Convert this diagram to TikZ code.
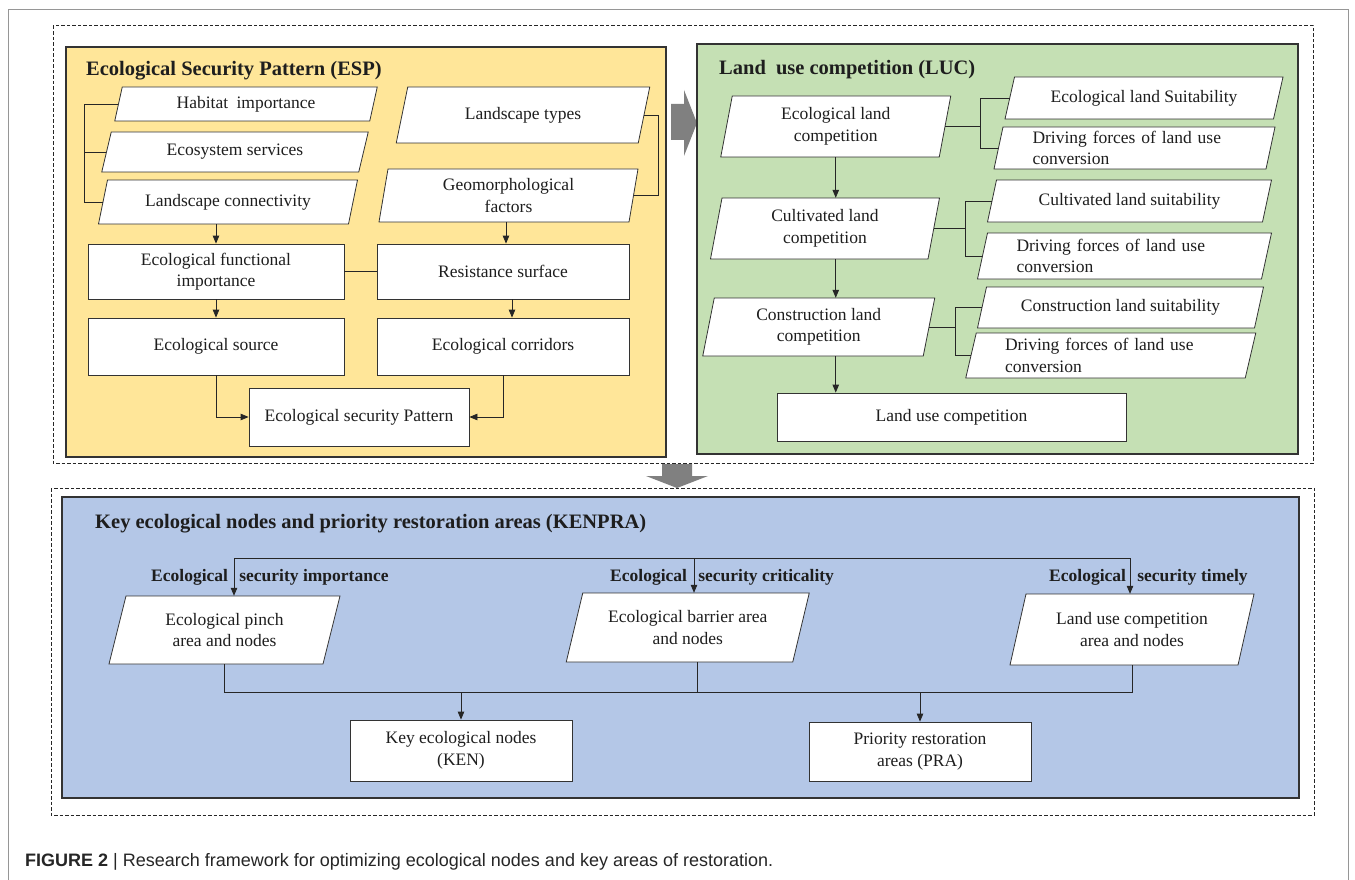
\documentclass[tikz,border=0pt]{standalone}
\usepackage{fontspec}
\setmainfont{Liberation Serif}
\newfontfamily\capfont{Liberation Sans}
\usetikzlibrary{arrows.meta,calc}

\definecolor{espfill}{RGB}{255,230,153}
\definecolor{lucfill}{RGB}{197,224,180}
\definecolor{kenfill}{RGB}{180,199,231}
\definecolor{arrowgray}{RGB}{128,128,128}
\definecolor{framegray}{RGB}{150,150,150}
\definecolor{inkcol}{RGB}{30,30,30}

% parallelogram: name, cx, cy, w, h, slant, text
\newcommand{\pgram}[7]{%
  \draw[boxline] ({#2-#4/2-#6/2},{#3+#5/2}) -- ({#2+#4/2-#6/2},{#3+#5/2}) -- ({#2+#4/2+#6/2},{#3-#5/2}) -- ({#2-#4/2+#6/2},{#3-#5/2}) -- cycle;
  \node[txt, minimum width=#4pt, minimum height=#5pt] (#1) at (#2,#3) {#7};
}
% parallelogram with left-aligned text: name, cx, cy, w, h, slant, textwidth, text
\newcommand{\pgramL}[8]{%
  \draw[boxline] ({#2-#4/2-#6/2},{#3+#5/2}) -- ({#2+#4/2-#6/2},{#3+#5/2}) -- ({#2+#4/2+#6/2},{#3-#5/2}) -- ({#2-#4/2+#6/2},{#3-#5/2}) -- cycle;
  \node[txt, align=left, text width=#7pt, minimum width=#4pt, minimum height=#5pt, inner xsep=34pt] (#1) at (#2,#3) {#8};
}

\begin{document}
\begin{tikzpicture}[x=1pt,y=-1pt,
  boxline/.style={draw=black!80, fill=white, line width=0.8pt},
  panel/.style={draw=black!80, line width=1.6pt},
  dframe/.style={draw=black!85, line width=1pt, dash pattern=on 3.5pt off 2pt},
  rbox/.style={draw=black!80, fill=white, line width=0.8pt, inner sep=0pt, align=center,
     font=\fontsize{17.5}{21.5}\selectfont, text=inkcol},
  txt/.style={inner sep=0pt, align=center, font=\fontsize{17.5}{21.5}\selectfont, text=inkcol},
  conn/.style={draw=black!85, line width=0.8pt},
  arr/.style={conn, -{Triangle[length=8pt,width=6.5pt]}},
  ttl/.style={inner sep=0pt, anchor=west, font=\fontsize{20.5}{24}\selectfont\bfseries, text=inkcol},
  sub/.style={inner sep=0pt, anchor=west, font=\fontsize{17.5}{21}\selectfont\bfseries, text=inkcol}
]
\useasboundingbox (0,0) rectangle (1355,880);
\fill[white] (0,0) rectangle (1355,880);

% outer frame
\draw[framegray, line width=1.3pt] (8.5,880) -- (8.5,9.5) -- (1348.5,9.5) -- (1348.5,880);

% gray block arrows
\fill[arrowgray] (671,104) -- (684,104) -- (684,90) -- (697,123) -- (684,156) -- (684,140) -- (671,140) -- cycle;
\fill[arrowgray] (662,464) -- (692,464) -- (692,476) -- (708,476) -- (677,488) -- (646,476) -- (662,476) -- cycle;

% dashed frames
\draw[dframe] (53,26) rectangle (1313,463);
\draw[dframe] (51,488) rectangle (1314,815);

% panels
\draw[panel, fill=espfill] (66,47) rectangle (666,457);
\draw[panel, fill=lucfill] (697,44) rectangle (1298,454);
\draw[panel, fill=kenfill] (62,497) rectangle (1299,798);

% titles
\node[ttl] (espt) at (86,71) {Ecological Security Pattern (ESP)};
\node[ttl] (luct) at (719,70) {Land\hspace{5pt} use competition (LUC)};
\node[ttl] (kent) at (95,524) {Key ecological nodes and priority restoration areas (KENPRA)};

% ===== ESP =====
\pgram{hab}{246}{104}{255}{34}{7.5}{Habitat\hspace{4pt} importance}
\pgram{eco}{235}{152}{257}{40}{9.5}{Ecosystem services}
\pgram{lcon}{228}{202}{250}{44}{9}{Landscape connectivity}
\pgram{ltyp}{523}{115}{242}{56}{11.5}{Landscape types}
\pgram{geo}{508.5}{195.5}{250}{53}{9}{Geomorphological\\factors}

\node[rbox, minimum width=256pt, minimum height=55pt] (efi) at (216,271.5) {Ecological functional\\importance};
\node[rbox, minimum width=252pt, minimum height=55pt] (res) at (503,271.5) {Resistance surface};
\node[rbox, minimum width=256pt, minimum height=57pt] (src) at (216,346.5) {Ecological source};
\node[rbox, minimum width=252pt, minimum height=57pt] (cor) at (503,346.5) {Ecological corridors};
\node[rbox, minimum width=220pt, minimum height=58pt] (espb) at (359,417) {Ecological security Pattern};

\draw[conn] (hab.west) -- ++(-33.5,0) coordinate (lbk) |- (lcon.west);
\draw[conn] (eco.west) -- (eco.west -| lbk);
\draw[conn] (ltyp.east) -- ++(14.5,0) coordinate (rbk) |- (geo.east);

\draw[arr] (efi.north |- lcon.south) -- (efi.north);
\draw[arr] ([xshift=-2.5pt]geo.south) -- ([xshift=-2.5pt]geo.south |- res.north);
\draw[conn] (efi.east) -- (res.west);
\draw[arr] (efi.south) -- (src.north);
\draw[arr] ([xshift=9pt]res.south) -- ([xshift=9pt]cor.north);
\draw[arr] (src.south) |- (espb.west);
\draw[arr] (cor.south) |- (espb.east);

% ===== LUC =====
\pgram{elc}{835.75}{126.5}{218.5}{61}{11.5}{Ecological land\\competition}
\pgram{els}{1144}{98}{268.5}{42}{9.5}{Ecological land Suitability}
\pgramL{df1}{1134.5}{148}{272}{42}{9}{204}{Driving forces of land use\\conversion}
\pgram{clc}{825}{228.5}{217.5}{61}{11.5}{Cultivated land\\competition}
\pgram{cls}{1129.5}{201}{275}{42}{9}{Cultivated land suitability}
\pgramL{df2}{1124.5}{256}{284}{46}{10}{216}{Driving forces of land use\\conversion}
\pgram{conlc}{818.75}{327}{220.5}{58}{11.5}{Construction land\\competition}
\pgram{cos}{1120.5}{307.5}{277}{41}{9}{Construction land suitability}
\pgramL{df3}{1110.75}{355.5}{279.5}{45}{10.5}{211.5}{Driving forces of land use\\conversion}
\node[rbox, minimum width=349pt, minimum height=48pt] (lucb) at (951.5,417) {Land use competition};

\draw[conn] (elc.east) -- ++(35,0) coordinate (b1);
\draw[conn] (els.west) -| (b1) |- (df1.west);
\draw[conn] (clc.east) -- ++(31,0) coordinate (b2);
\draw[conn] (cls.west) -| (b2) |- (df2.west);
\draw[conn] (conlc.east) -- ++(26,0) coordinate (b3);
\draw[conn] (cos.west) -| (b3) |- (df3.west);

\draw[arr] (elc.south) -- (elc.south |- clc.north);
\draw[arr] (elc.south |- clc.south) -- (elc.south |- conlc.north);
\draw[arr] (elc.south |- conlc.south) -- (elc.south |- lucb.north);

% ===== KENPRA =====
\pgram{pinch}{224.5}{630}{214}{68}{17}{Ecological pinch\\area and nodes}
\pgram{barr}{687.75}{627.5}{226.5}{69}{16.5}{Ecological barrier area\\and nodes}
\pgram{lucan}{1132}{629.5}{228}{71}{16}{Land use competition\\area and nodes}
\node[rbox, minimum width=222pt, minimum height=61pt] (ken) at (461,750.5) {Key ecological nodes\\(KEN)};
\node[rbox, minimum width=222pt, minimum height=59pt] (pra) at (920,751.5) {Priority restoration\\areas (PRA)};

\node[sub] (s1) at (151,577) {Ecological\hspace{7pt} security importance};
\node[sub] (s2) at (610,577) {Ecological\hspace{7pt} security criticality};
\node[sub] (s3) at (1049,577) {Ecological\hspace{7pt} security timely};

\coordinate (t1) at (234,558);
\coordinate (t2) at (694,558);
\coordinate (t3) at (1130,558);
\draw[conn] (t1) -- (t3);
\draw[arr] (t1) -- (t1 |- pinch.north);
\draw[arr] (t2) -- (t2 |- barr.north);
\draw[arr] (t3) -- (t3 |- lucan.north);

\coordinate (lo) at (224.5,692);
\draw[conn] (pinch.south) -- (lo) -- (lo -| lucan.south) -- (lucan.south);
\draw[conn] ([xshift=10pt]barr.south) -- ([xshift=10pt]barr.south |- lo);
\draw[arr] (lo -| ken.north) -- (ken.north);
\draw[arr] (lo -| pra.north) -- (pra.north);

% caption
\node[anchor=west, inner sep=0pt, font=\capfont\fontsize{18}{22}\selectfont, text=black!85] (cap) at (25,862)
  {\textbf{FIGURE 2} | Research framework for optimizing ecological nodes and key areas of restoration.};
\end{tikzpicture}
\end{document}
